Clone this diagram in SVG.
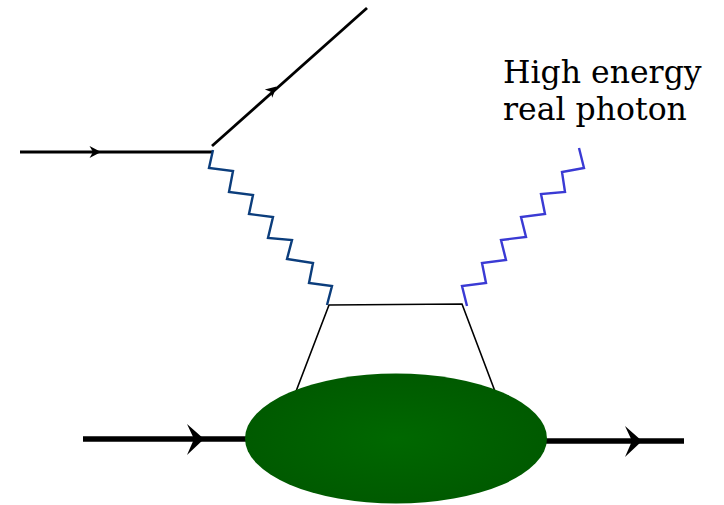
<svg xmlns="http://www.w3.org/2000/svg" width="724" height="505" viewBox="0 0 724 505">
<style>
.fermion{fill:none;stroke:#000;stroke-width:2.8}
.proton{fill:none;stroke:#000;stroke-width:5.5}
.loop{fill:none;stroke:#000;stroke-width:1.6}
.vphoton{fill:none;stroke:#0b3d7c;stroke-width:2.4;stroke-linejoin:miter}
.rphoton{fill:none;stroke:#3a3ad4;stroke-width:2.4;stroke-linejoin:miter}
.label{font-family:"DejaVu Serif","Liberation Serif",serif;font-size:31.5px;fill:#000}
</style>
<defs>
<radialGradient id="blob" cx="0.5" cy="0.5" r="0.5">
<stop offset="0" stop-color="#006800"/>
<stop offset="1" stop-color="#005a00"/>
</radialGradient>
</defs>
<g id="connectors">
<line class="fermion" x1="20" y1="152" x2="213" y2="152"/>
<path d="M101,152 L89.5,146 L93,152 L89.5,158 Z" fill="#000"/>
<line class="fermion" x1="212" y1="146" x2="367" y2="8"/>
<path d="M276.5,86.6 L264.8,89.5 L270.8,91.7 L272.2,97.7 Z" fill="#000"/>
<polyline class="vphoton" points="213,150 209,168 233,171 229,192 253,195 249,214 273,217 268,238 292,240 287,259 313,263 309,283 332,286 327,305"/>
<polyline class="rphoton" points="579,148 584,168 562,172 565,192 541,194 545,214 521,217 526,237 501,240 506,260 482,263 486,283 462,286 467,306"/>
<polyline class="loop" points="295,394 329,305 462,304 496,394"/>
<line class="proton" x1="83" y1="439" x2="247" y2="439"/>
<path d="M204,439 L187,424 L194,439 L187,455 Z" fill="#000"/>
<line class="proton" x1="546" y1="441" x2="684" y2="441"/>
<path d="M642,441 L625,426 L632,441 L625,457 Z" fill="#000"/>
</g>
<g id="blob-node">
<ellipse cx="396" cy="438.5" rx="151" ry="65" fill="url(#blob)"/>
</g>
<g id="label">
<text class="label" x="503" y="83">High energy</text>
<text class="label" x="503" y="120">real photon</text>
</g>
</svg>
